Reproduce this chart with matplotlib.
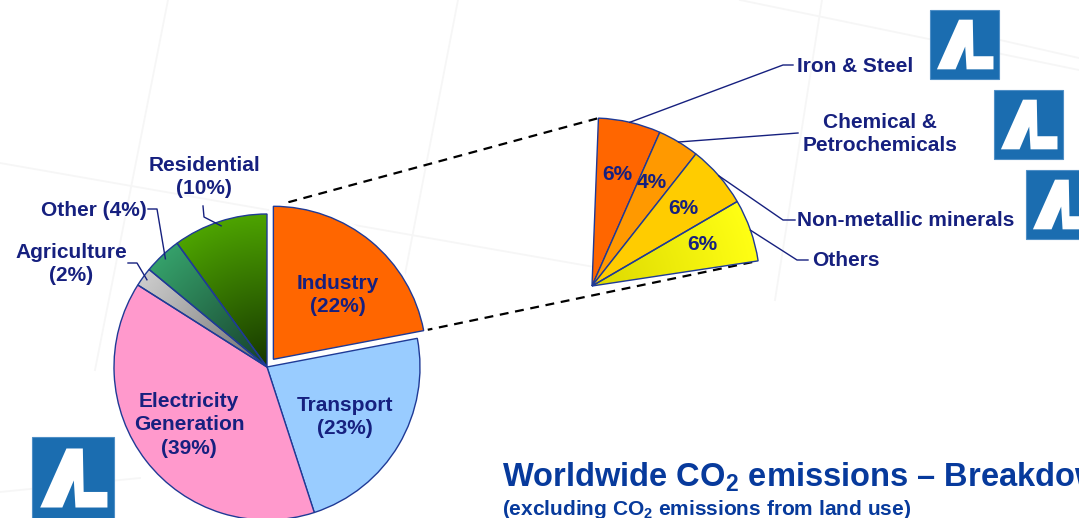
import numpy as np
import matplotlib

matplotlib.use("Agg")

import matplotlib.pyplot as plt
import matplotlib.patheffects as pe
from matplotlib.colors import to_rgb
from matplotlib.patches import Polygon, Rectangle

plt.rcParams["font.family"] = ["Liberation Sans", "DejaVu Sans"]
plt.rcParams["mathtext.fontset"] = "custom"
plt.rcParams["mathtext.rm"] = "Liberation Sans"
plt.rcParams["mathtext.bf"] = "Liberation Sans:bold"

W, H = 1079, 518
NAVY = "#16207F"
EDGE = "#1F3A96"
TITLE_BLUE = "#073A9C"
LOGO_BLUE = "#1B6DB0"

# main breakdown (clockwise from 12 o'clock)
sectors = ["Industry\n(22%)", "Transport\n(23%)", "Electricity\nGeneration\n(39%)",
           "Agriculture\n(2%)", "Other (4%)", "Residential\n(10%)"]
shares = [22, 23, 39, 2, 4, 10]
sector_colors = ["#FF6600", "#99CCFF", "#FF99CC", "#B8B8B8", "#2F8F5F", "#3F8F00"]

# industry split
parts = ["Iron & Steel", "Chemical &\nPetrochemicals", "Non-metallic minerals", "Others"]
part_shares = [6, 4, 6, 6]
part_colors = ["#FF6600", "#FF9900", "#FFCC00", "#F6F600"]


def img(x, y):
    # picture coordinates (y down) -> axes data (y up)
    return x, H - y


fig = plt.figure(figsize=(W / 100, H / 100), dpi=100)
ax = fig.add_axes([0, 0, 1, 1])

# faint slide background lines
for (x1, y1), (x2, y2) in [((0, 163), (600, 268)), ((168, 0), (95, 370)),
                           ((458, 0), (400, 300)), ((0, 492), (140, 478)),
                           ((740, 0), (1079, 70)), ((822, 0), (775, 300)),
                           ((1000, 40), (1079, 58))]:
    ax.plot([x1, x2], [H - y1, H - y2], color="#F6F6F6", lw=1.3, zorder=0)

main_c = img(267, 367)
main_r = 153
wedges, _ = ax.pie(shares, colors=sector_colors, startangle=90, counterclock=False,
                   center=main_c, radius=main_r, explode=[10, 0, 0, 0, 0, 0],
                   wedgeprops=dict(edgecolor=EDGE, linewidth=1.0), frame=True)

ind = wedges[0]
ind.set_zorder(3)
ind.set_path_effects([pe.Stroke(linewidth=6, foreground="white"), pe.Normal()])

fan_c = img(592, 286)
fan_r = 168
fan_start = ind.theta2 - 2.2
fan, _ = ax.pie([s / 100 for s in part_shares], colors=part_colors, startangle=fan_start,
                counterclock=False, normalize=False, center=fan_c, radius=fan_r,
                wedgeprops=dict(edgecolor=EDGE, linewidth=1.0), frame=True)


def shade(w, inner, outer):
    cx, cy = w.center
    r = w.r
    xs = np.linspace(cx - r, cx + r, 300)
    ys = np.linspace(cy - r, cy + r, 300)
    X, Y = np.meshgrid(xs, ys)
    t = np.clip(np.hypot(X - cx, Y - cy) / r, 0, 1)[..., None]
    c0, c1 = np.array(to_rgb(inner)), np.array(to_rgb(outer))
    im = ax.imshow(c0 + (c1 - c0) * t, extent=(cx - r, cx + r, cy - r, cy + r),
                   origin="lower", aspect="auto", interpolation="bilinear",
                   zorder=w.get_zorder() - 0.05)
    im.set_clip_path(w)
    w.set_facecolor("none")


shade(wedges[3], "#6E6E6E", "#CCCCCC")
shade(wedges[4], "#173F2C", "#35A06A")
shade(wedges[5], "#163600", "#4DA300")
shade(fan[3], "#DCD800", "#FFFF14")


def arc_point(w, ang, frac=1.0):
    a = np.deg2rad(ang)
    return w.center[0] + frac * w.r * np.cos(a), w.center[1] + frac * w.r * np.sin(a)


# dashed connectors between Industry and the fan
p1 = arc_point(ind, ind.theta2)
p2 = arc_point(fan[0], fan[0].theta2)
q1 = arc_point(ind, ind.theta1)
q2 = arc_point(fan[-1], fan[-1].theta1)
for a, b in [(p1, p2), (q1, q2)]:
    ax.plot([a[0], b[0]], [a[1], b[1]], color="black", lw=1.6, ls=(0, (4, 3)), zorder=0.8)

lab_kw = dict(color=NAVY, fontsize=15, fontweight="bold", ha="center", va="center",
              linespacing=1.3, zorder=6)

# labels inside the main pie
for i, pos in [(0, (338, 295)), (1, (345, 417)), (2, (189, 425))]:
    ax.text(*img(*pos), sectors[i], **lab_kw)

# outside labels with leader lines
outside = [(3, (71, 264), [(137, 263), (128, 263)]),
           (4, (94, 210), [(157, 209), (148, 209)]),
           (5, (204, 177), [(204, 217), (203, 206)])]
for i, pos, elbow in outside:
    w = wedges[i]
    ax.text(*img(*pos), sectors[i], **lab_kw)
    a = arc_point(w, (w.theta1 + w.theta2) / 2, 0.97)
    xs = [a[0]] + [e[0] for e in elbow]
    ys = [a[1]] + [H - e[1] for e in elbow]
    ax.plot(xs, ys, color=NAVY, lw=1.0, zorder=5)

# fan percentages
for w, s, pos in zip(fan, part_shares, [(617, 175), (652, 183), (683, 208), (702, 244)]):
    ax.text(*img(*pos), f"{s}%", **lab_kw)

# fan labels with leader lines
fan_labels = [((797, 66), "left", [(783, 65), (793, 65)]),
              ((880, 134), "center", [(798, 133)]),
              ((797, 220), "left", [(783, 220), (795, 220)]),
              ((812, 260), "left", [(797, 260), (808, 260)])]
for w, name, (pos, ha, elbow) in zip(fan, parts, fan_labels):
    kw = dict(lab_kw, ha=ha)
    ax.text(*img(*pos), name, **kw)
    a = arc_point(w, (w.theta1 + w.theta2) / 2)
    xs = [a[0]] + [e[0] for e in elbow]
    ys = [a[1]] + [H - e[1] for e in elbow]
    ax.plot(xs, ys, color=NAVY, lw=1.0, zorder=5)


def logo(x0, y0, size):
    # blue square with white "/L" mark; x0, y0 = top-left in picture coords
    bx, by = x0, H - y0 - size
    ax.add_patch(Rectangle((bx, by), size, size, facecolor=LOGO_BLUE,
                           edgecolor="#4F8FC6", lw=0.8, zorder=7, clip_on=False))
    shape = [(0.10, 0.14), (0.42, 0.86), (0.62, 0.86), (0.63, 0.33), (0.92, 0.33),
             (0.92, 0.14), (0.53, 0.14), (0.51, 0.47), (0.37, 0.14)]
    ax.add_patch(Polygon([(bx + u * size, by + v * size) for u, v in shape],
                         closed=True, facecolor="white", edgecolor="none", zorder=8,
                         clip_on=False))


logo(930, 10, 69)
logo(994, 90, 69)
logo(1026, 170, 69)
logo(32, 437, 82)

ax.text(*img(502, 486), "Worldwide CO$_\\mathbf{2}$ emissions \u2013 Breakdown",
        color=TITLE_BLUE, fontsize=23.5, fontweight="bold", ha="left", va="baseline",
        zorder=9)
ax.text(*img(502, 515), "(excluding CO$_\\mathbf{2}$ emissions from land use)",
        color=TITLE_BLUE, fontsize=15, fontweight="bold", ha="left", va="baseline",
        zorder=9)

ax.set_xlim(0, W)
ax.set_ylim(0, H)
ax.set_aspect("auto")
ax.axis("off")

fig.savefig("out.png", dpi=100)
